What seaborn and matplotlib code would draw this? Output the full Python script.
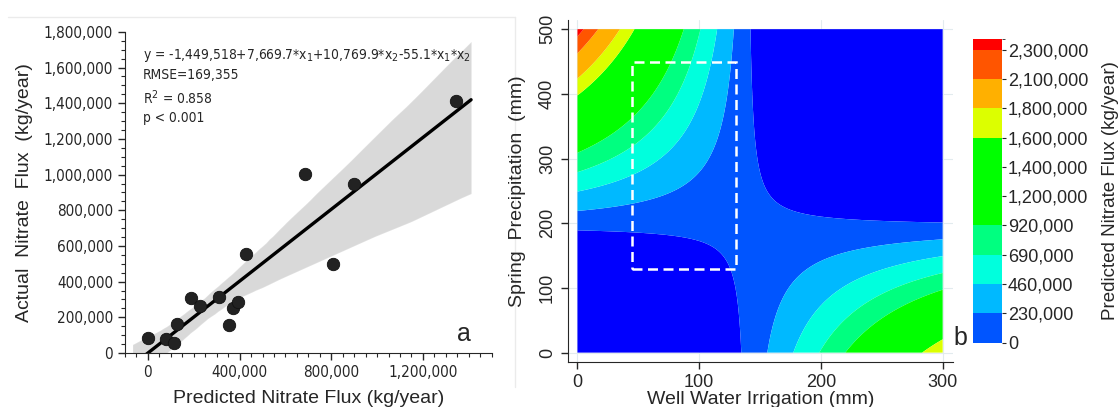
import numpy as np
import pandas as pd
import matplotlib
matplotlib.use("Agg")
import matplotlib.pyplot as plt
import matplotlib.colors as mcolors
import matplotlib.ticker as mticker
from matplotlib.patches import Rectangle
from matplotlib.lines import Line2D
import seaborn as sns

# Panel a: predicted vs actual nitrate flux (kg/year)
predicted = [0, 81000, 114000, 126000, 190000, 227000, 312000, 356000,
             372000, 394000, 430000, 684000, 809000, 898000, 1343000]
actual = [83000, 79000, 55000, 164000, 306000, 266000, 313000, 155000,
          253000, 287000, 555000, 1002000, 498000, 947000, 1414000]

# Panel b: model y = b0 + b1*x1 + b2*x2 + b12*x1*x2
# x1 = spring precipitation (mm), x2 = well water irrigation (mm)
b0 = -1449518
b1 = 7669.7
b2 = 10769.9
b12 = -55.1

irrigation = np.linspace(0, 300, 301)
precipitation = np.linspace(0, 500, 501)

contour_levels = [0, 230000, 460000, 690000, 920000, 1600000, 1800000, 2100000, 2300000]
contour_colors = ['#0000ff', '#0055ff', '#00b9ff', '#00ffdd', '#00ff80',
                  '#00ff00', '#dcff00', '#ffb000', '#ff5500', '#ff0000']
cbar_values = [0, 230000, 460000, 690000, 920000, 1200000, 1400000,
               1600000, 1800000, 2100000, 2300000]
cbar_colors = ['#0055ff', '#00b9ff', '#00ffdd', '#00ff80', '#00ff00', '#00ff00',
               '#00ff00', '#dcff00', '#ffb000', '#ff5500', '#ff0000']

# focus box (irrigation x precipitation)
box_irr = (45, 130)
box_prec = (130, 450)

sns.set_style("ticks")
plt.rcParams['font.family'] = ['Liberation Sans', 'DejaVu Sans']
plt.rcParams['mathtext.fontset'] = 'dejavusans'

fig = plt.figure(figsize=(11.2, 4.07), dpi=100)

# faint frame left over from the panel a image
fig.add_artist(Line2D([8 / 1120, 515 / 1120], [1 - 17 / 407, 1 - 17 / 407],
                      transform=fig.transFigure, color='#ebebeb', lw=1, zorder=-1))
fig.add_artist(Line2D([515 / 1120, 515 / 1120], [0.05, 1 - 17 / 407],
                      transform=fig.transFigure, color='#ebebeb', lw=1, zorder=-1))

# ---------------- panel a ----------------
ax1 = fig.add_axes([0.1116, 0.1327, 0.3274, 0.789])
ax1.patch.set_alpha(0)
df = pd.DataFrame({'Predicted': predicted, 'Actual': actual})
sns.regplot(data=df, x='Predicted', y='Actual', ax=ax1, ci=96, truncate=False,
            color='black', seed=11,
            scatter_kws=dict(s=80, color='#222222', alpha=1, zorder=3,
                             edgecolors='#111111', linewidths=0.6),
            line_kws=dict(color='black', lw=2.4))
ax1.set_xlim(-100000, 1500000)
ax1.set_ylim(0, 1800000)
ax1.xaxis.set_major_locator(mticker.MultipleLocator(400000))
ax1.xaxis.set_minor_locator(mticker.MultipleLocator(50000))
ax1.yaxis.set_major_locator(mticker.MultipleLocator(200000))
ax1.yaxis.set_minor_locator(mticker.MultipleLocator(50000))
ax1.xaxis.set_major_formatter(mticker.StrMethodFormatter('{x:,.0f}'))
ax1.yaxis.set_major_formatter(mticker.StrMethodFormatter('{x:,.0f}'))
ax1.tick_params(which='major', length=5, width=1, direction='out')
ax1.tick_params(which='minor', length=3, width=0.8, direction='out')
for lab in ax1.get_xticklabels() + ax1.get_yticklabels():
    lab.set_family('DejaVu Sans')
    lab.set_stretch('condensed')
    lab.set_fontsize(11)
sns.despine(ax=ax1)
ax1.set_xlabel('Predicted Nitrate Flux (kg/year)', fontsize=14, labelpad=7)
ax1.set_ylabel('Actual  Nitrate  Flux  (kg/year)', fontsize=14, labelpad=8)

eq = ('y = -1,449,518+7,669.7*x$_1$+10,769.9*x$_2$-55.1*x$_1$*x$_2$\n'
      'RMSE=169,355\n'
      'R$^2$ = 0.858\n'
      'p < 0.001')
ax1.text(0.049, 0.952, eq, transform=ax1.transAxes, ha='left', va='top',
         fontsize=9.9, family='DejaVu Sans', stretch='condensed', linespacing=1.38)
ax1.text(0.925, 0.06, 'a', transform=ax1.transAxes, ha='center', va='center', fontsize=18)

# ---------------- panel b ----------------
ax2 = fig.add_axes([0.5069, 0.1106, 0.344, 0.840])
II, PP = np.meshgrid(irrigation, precipitation)
flux = b0 + b1 * PP + b2 * II + b12 * PP * II
levels = [flux.min() - 1] + contour_levels + [flux.max() + 1]
ax2.contourf(II, PP, flux, levels=levels, colors=contour_colors, antialiased=True)
ax2.add_patch(Rectangle((box_irr[0], box_prec[0]), box_irr[1] - box_irr[0],
                        box_prec[1] - box_prec[0], fill=False, ec='white',
                        lw=1.8, ls=(0, (4, 2.2)), zorder=4))
ax2.set_xlim(-8, 308.5)
ax2.set_ylim(-14.5, 514)
ax2.set_xticks([0, 100, 200, 300])
ax2.set_yticks([0, 100, 200, 300, 400, 500])
ax2.set_yticklabels(['0', '100', '200', '300', '400', '500'], rotation=90,
                    rotation_mode='default', ha='right', va='center')
ax2.grid(True, color='#e2ebee', lw=0.8)
ax2.set_axisbelow(True)
ax2.tick_params(axis='both', length=5, width=1, labelsize=13, direction='out')
sns.despine(ax=ax2)
ax2.set_xlabel('Well Water Irrigation (mm)', fontsize=14, labelpad=0)
ax2.set_ylabel('Spring  Precipitation  (mm)', fontsize=14, labelpad=9)
ax2.text(1.02, 0.07, 'b', transform=ax2.transAxes, ha='center', va='center', fontsize=18)

# ---------------- colorbar ----------------
cax = fig.add_axes([0.869, 0.158, 0.0259, 0.746])
bounds = list(range(len(cbar_values))) + [len(cbar_values) - 1 + 0.36]
cmap = mcolors.ListedColormap(cbar_colors)
norm = mcolors.BoundaryNorm(bounds, cmap.N)
cb = fig.colorbar(plt.cm.ScalarMappable(norm=norm, cmap=cmap), cax=cax,
                  boundaries=bounds, spacing='proportional',
                  ticks=list(range(len(cbar_values))))
cb.ax.set_yticklabels([f'{v:,}' for v in cbar_values])
cb.ax.tick_params(length=3, width=0.8, labelsize=13, pad=1)
cb.outline.set_visible(False)
cb.set_label('Predicted Nitrate Flux (kg/year)', fontsize=13.5, labelpad=10)

fig.savefig('out.png', dpi=100)
